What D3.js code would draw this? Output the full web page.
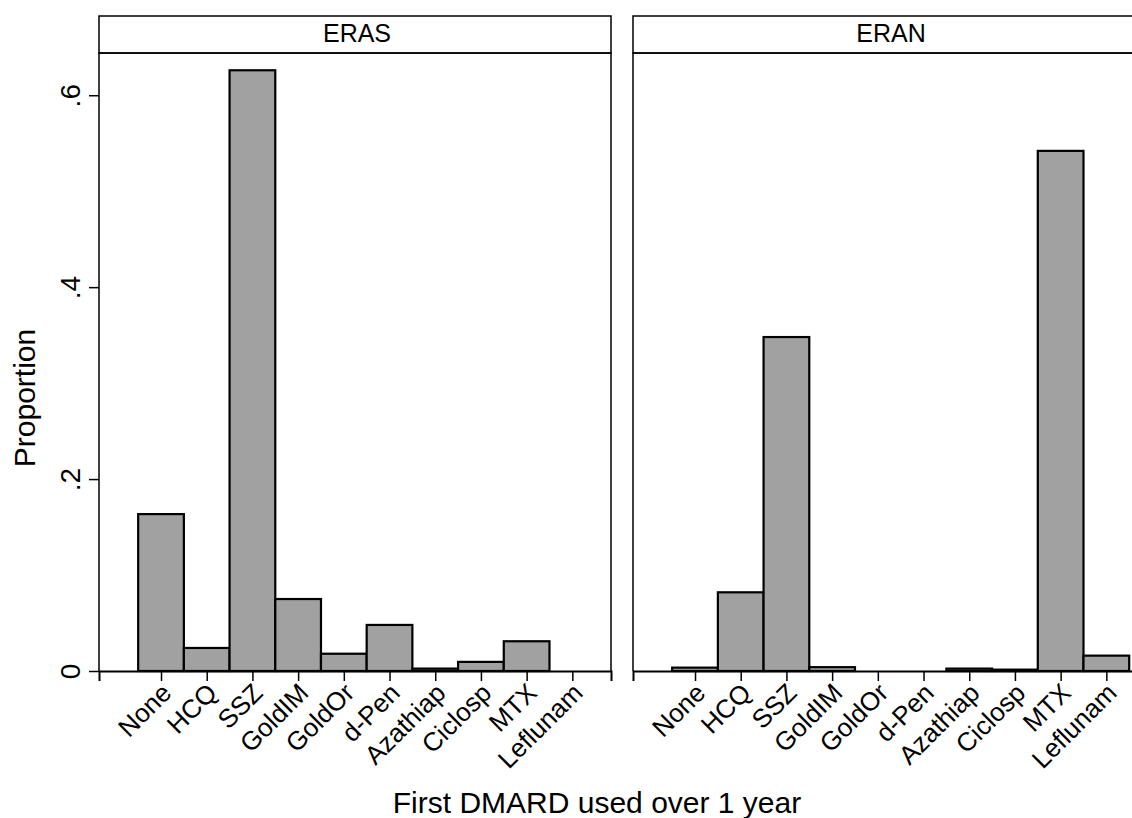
<!DOCTYPE html>
<html>
<head>
<meta charset="utf-8">
<script src="https://cdn.jsdelivr.net/npm/d3@7"></script>
<style>
  body { margin: 0; background: #fff; }
  svg { display: block; font-family: "Liberation Sans", Arial, Helvetica, sans-serif; }
</style>
</head>
<body>
<div id="chart"></div>
<script>
// data
const drugs = ["None", "HCQ", "SSZ", "GoldIM", "GoldOr", "d-Pen", "Azathiap", "Ciclosp", "MTX", "Leflunam"];
const panels = ["ERAS", "ERAN"];
const erasValues = [0.1635, 0.024, 0.626, 0.075, 0.018, 0.048, 0.0025, 0.0095, 0.031, 0];
const eranValues = [0.0035, 0.082, 0.348, 0.004, 0, 0, 0.0025, 0.0014, 0.542, 0.016];
const yTicks = [0, 0.2, 0.4, 0.6];
const yTickLabels = ["0", ".2", ".4", ".6"];

const width = 1132, height = 818;
// panel geometry
const panelLeft = [99, 633];
const panelW = 512;
const headTop = 16, plotTop = 53, plotBottom = 671;

const svg = d3.select("#chart").append("svg")
  .attr("width", width)
  .attr("height", height);

// y scale shared by both panels
const y = d3.scaleLinear()
  .domain([0, 0.644])
  .range([plotBottom, plotTop]);

// x positions: index of the category, bars touch each other
const x = d3.scaleLinear()
  .domain([-1.357, 9.846])
  .range([0, panelW]);

const allValues = [erasValues, eranValues];

panels.forEach((name, p) => {
  const g = svg.append("g").attr("transform", `translate(${panelLeft[p]},0)`);

  // header strip
  g.append("rect")
    .attr("x", 0).attr("y", headTop)
    .attr("width", panelW).attr("height", plotTop - headTop)
    .attr("fill", "#fff").attr("stroke", "#000").attr("stroke-width", 1.5);
  g.append("text")
    .attr("x", panelW / 2 + 2).attr("y", plotTop - 11)
    .attr("text-anchor", "middle")
    .attr("font-size", 25)
    .text(name);

  // bars
  g.append("g")
    .selectAll("rect")
    .data(allValues[p])
    .join("rect")
      .attr("x", (d, i) => x(i - 0.5))
      .attr("width", x(1) - x(0))
      .attr("y", d => y(d))
      .attr("height", d => y(0) - y(d))
      .attr("fill", "#a1a1a1")
      .attr("stroke", "#000")
      .attr("stroke-width", 2.2);

  // plot region outline (left, right, top)
  g.append("path")
    .attr("d", `M0,${plotBottom}V${plotTop}H${panelW}V${plotBottom}`)
    .attr("fill", "none").attr("stroke", "#000").attr("stroke-width", 1.5);

  // x axis
  const xAxis = d3.axisBottom(x)
    .tickValues(d3.range(drugs.length))
    .tickSize(10)
    .tickFormat(i => drugs[i]);
  const ax = g.append("g")
    .attr("transform", `translate(0,${plotBottom})`)
    .call(xAxis);
  ax.select(".domain").attr("stroke", "#000").attr("stroke-width", 2);
  ax.selectAll(".tick line").attr("stroke", "#000").attr("stroke-width", 1.5);
  ax.selectAll(".tick text")
    .attr("font-size", 26)
    .attr("font-family", "Liberation Sans, Arial, sans-serif")
    .attr("fill", "#000")
    .attr("text-anchor", "end")
    .attr("x", 5).attr("y", 17).attr("dy", "0.35em")
    .attr("transform", "rotate(-45,5,17)");

  // y axis only on the first panel
  if (p === 0) {
    const yAxis = d3.axisLeft(y)
      .tickValues(yTicks)
      .tickSize(10)
      .tickFormat((d, i) => yTickLabels[i]);
    const ay = g.append("g").call(yAxis);
    ay.select(".domain").remove();
    ay.selectAll(".tick line").attr("stroke", "#000").attr("stroke-width", 1.5);
    ay.selectAll(".tick text")
      .attr("font-size", 28)
      .attr("font-family", "Liberation Sans, Arial, sans-serif")
      .attr("fill", "#000")
      .attr("text-anchor", "middle")
      .attr("x", 0).attr("dy", 0)
      .attr("transform", "translate(-19,0) rotate(-90)");
  }
});

// axis titles
svg.append("text")
  .attr("x", 597).attr("y", 813)
  .attr("text-anchor", "middle")
  .attr("font-size", 30)
  .text("First DMARD used over 1 year");

svg.append("text")
  .attr("transform", "translate(35,398) rotate(-90)")
  .attr("text-anchor", "middle")
  .attr("font-size", 30)
  .text("Proportion");
</script>
</body>
</html>
